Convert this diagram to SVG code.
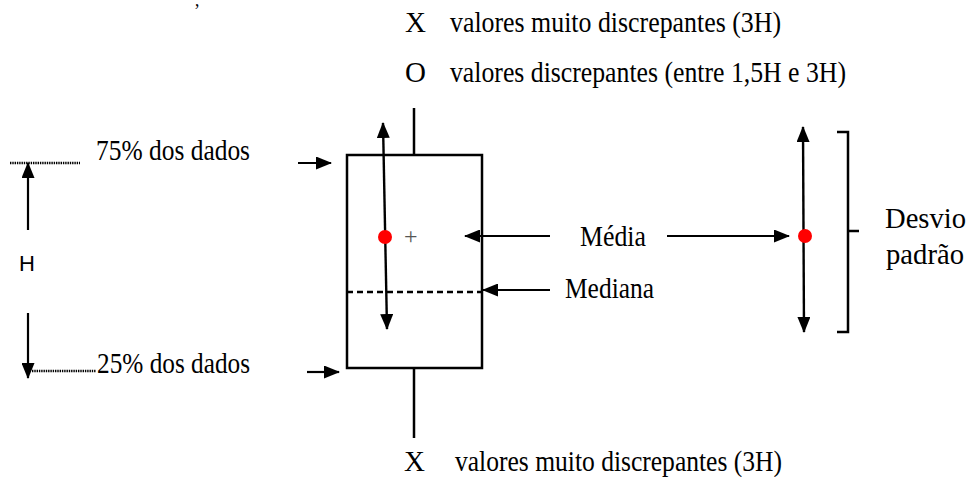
<svg xmlns="http://www.w3.org/2000/svg" width="975" height="477" viewBox="0 0 975 477">
<style>
.t{font-family:"Liberation Serif","Times New Roman",serif;font-size:29px;fill:#000}
.s{font-family:"Liberation Sans",Arial,sans-serif;font-size:22px;fill:#000}
.ln{stroke:#000;stroke-width:2.5;fill:none}
.ar{stroke:#000;stroke-width:2.2;fill:none;marker-end:url(#ah)}
.ar2{stroke:#000;stroke-width:2.4;fill:none;marker-end:url(#ah);marker-start:url(#ah)}
.dot{stroke:#000;stroke-width:2.4;stroke-dasharray:1.4 0.9;fill:none}
</style>
<defs>
<marker id="ah" markerUnits="userSpaceOnUse" viewBox="0 0 16 13" markerWidth="16" markerHeight="13" refX="15" refY="6.5" orient="auto-start-reverse">
<path d="M0,0 L16,6.5 L0,13 z" fill="#000"/>
</marker>
</defs>
<rect width="975" height="477" fill="#fff"/>
<text class="t" x="194" y="17" style="font-size:18px">’</text>
<g id="legend-top">
<text class="t" x="405" y="32">X</text>
<text class="t" x="450" y="32" textLength="331" lengthAdjust="spacingAndGlyphs">valores muito discrepantes (3H)</text>
<text class="t" x="405" y="82">O</text>
<text class="t" x="450" y="82" textLength="396" lengthAdjust="spacingAndGlyphs">valores discrepantes (entre 1,5H e 3H)</text>
</g>
<g id="legend-bottom">
<text class="t" x="404" y="471">X</text>
<text class="t" x="455" y="471" textLength="327" lengthAdjust="spacingAndGlyphs">valores muito discrepantes (3H)</text>
</g>
<g id="boxplot">
<rect class="ln" x="347" y="155" width="135" height="213"/>
<line class="ln" x1="414" y1="108" x2="414" y2="155"/>
<line class="ln" x1="414" y1="368" x2="414" y2="438"/>
<line x1="347" y1="292" x2="482" y2="292" stroke="#000" stroke-width="2.5" stroke-dasharray="6 4"/>
<text x="404" y="244" style="font-family:'Liberation Serif',serif;font-size:24px;fill:#555">+</text>
</g>
<g id="q3-label">
<text class="t" x="96" y="160" textLength="154" lengthAdjust="spacingAndGlyphs">75% dos dados</text>
</g>
<g id="q1-label">
<text class="t" x="97" y="373" textLength="153" lengthAdjust="spacingAndGlyphs">25% dos dados</text>
</g>
<g id="h-label">
<text class="s" x="19" y="271">H</text>
</g>
<g id="media-label">
<text class="t" x="580" y="246" textLength="66" lengthAdjust="spacingAndGlyphs">Média</text>
</g>
<g id="mediana-label">
<text class="t" x="565" y="298" textLength="89" lengthAdjust="spacingAndGlyphs">Mediana</text>
</g>
<g id="sd-label">
<text class="t" x="885" y="228" textLength="81" lengthAdjust="spacingAndGlyphs">Desvio</text>
<text class="t" x="886" y="264" textLength="78" lengthAdjust="spacingAndGlyphs">padrão</text>
</g>
<g id="connectors">
<line class="dot" x1="10" y1="163" x2="80" y2="163"/>
<line class="dot" x1="32" y1="371" x2="96" y2="371"/>
<line class="ar" x1="28" y1="230" x2="28" y2="163"/>
<line class="ar" x1="28" y1="313" x2="28" y2="378"/>
<line class="ar" x1="298" y1="163" x2="331" y2="163"/>
<line class="ar" x1="307" y1="372" x2="339" y2="372"/>
<line class="ar2" x1="383" y1="123" x2="387" y2="329"/>
<line class="ar" x1="550" y1="236" x2="465" y2="236"/>
<line class="ar" x1="550" y1="290" x2="483" y2="290"/>
<line class="ar" x1="667" y1="236" x2="789" y2="236"/>
<line class="ar2" x1="803" y1="127" x2="804" y2="332"/>
<path class="ln" d="M837,132 L848,132 L848,332 L837,332 M848,231 L859,231" stroke-width="2"/>
</g>
<circle cx="385" cy="237" r="7" fill="#f00"/>
<circle cx="805" cy="236" r="7" fill="#f00"/>
</svg>
